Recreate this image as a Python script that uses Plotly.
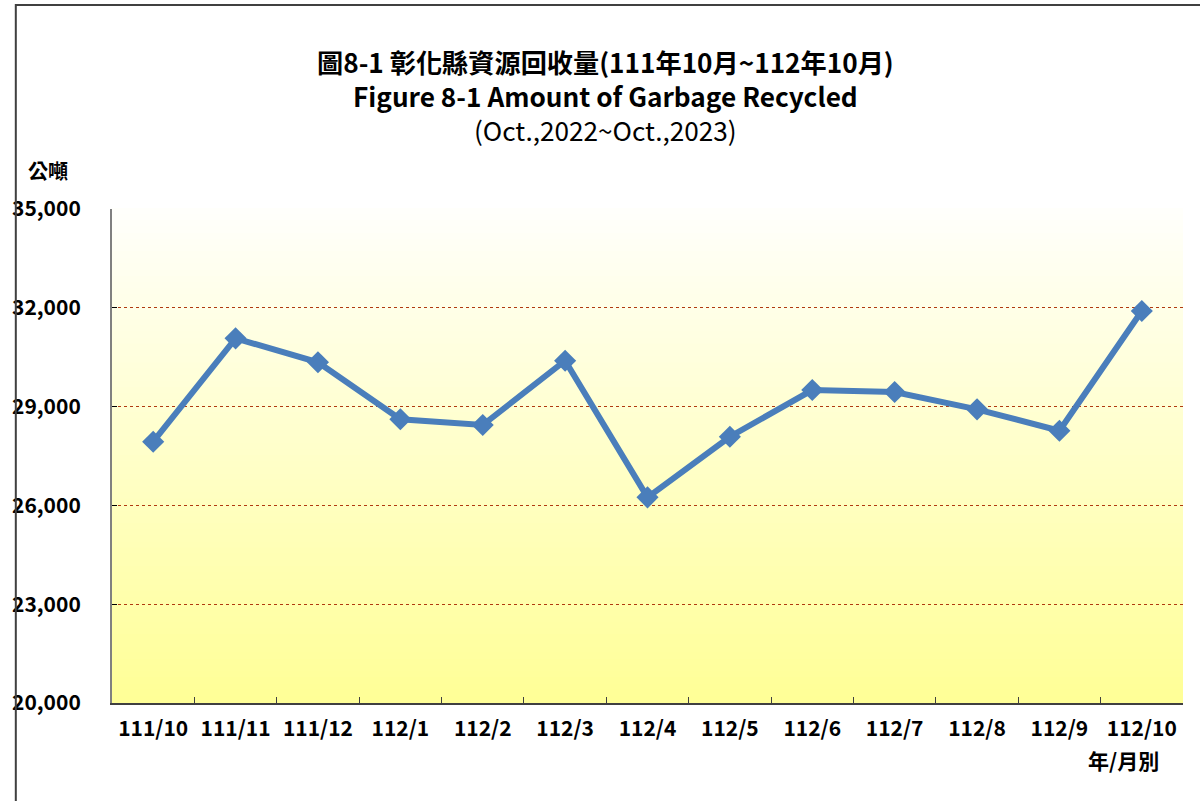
import plotly.graph_objects as go

months = ["111/10", "111/11", "111/12", "112/1", "112/2", "112/3", "112/4",
          "112/5", "112/6", "112/7", "112/8", "112/9", "112/10"]
recycled = [27934, 31073, 30345, 28614, 28440, 30393, 26245,
            28085, 29503, 29443, 28917, 28268, 31903]
y_ticks = [20000, 23000, 26000, 29000, 32000, 35000]
y_tick_text = ["20,000", "23,000", "26,000", "29,000", "32,000", "35,000"]

FONT = "Noto Sans CJK TC"
W, H = 1200, 801
L, R, T, B = 103, 17, 209, 98

fig = go.Figure()
fig.add_trace(go.Scatter(
    x=months, y=recycled, mode="lines+markers",
    line=dict(color="#4A7EBB", width=6),
    marker=dict(symbol="diamond", size=17, color="#4A7EBB"),
    showlegend=False, hoverinfo="x+y",
))

shapes = []
# vertical gradient background of plot area
n = 80
top = (255, 255, 252)
bot = (255, 255, 150)
for i in range(n):
    f = (i + 0.5) / n
    c = tuple(round(top[k] + (bot[k] - top[k]) * f) for k in range(3))
    shapes.append(dict(type="rect", xref="paper", yref="paper",
                       x0=0, x1=1, y0=1 - (i + 1) / n, y1=1 - i / n + 0.002,
                       fillcolor="rgb(%d,%d,%d)" % c, line=dict(width=0), layer="below"))
pw, ph = W - L - R, H - T - B
def px(x): return (x - L) / pw
def py(y): return (H - B - y) / ph
# outer frame (extends beyond right/bottom edges)
shapes.append(dict(type="rect", xref="paper", yref="paper",
                   x0=px(6), x1=px(1215), y0=py(820), y1=py(5),
                   line=dict(color="#404040", width=2), fillcolor="rgba(0,0,0,0)", layer="above"))

def note(text, x, y, size):
    return dict(text=text, x=px(x), y=py(y), xref="paper", yref="paper",
                xanchor="center", yanchor="middle", showarrow=False, align="center",
                font=dict(family=FONT, size=size, color="#000"))

title_text = ("<b>圖8-1 彰化縣資源回收量(111年10月~112年10月)</b><br>"
              "<b>Figure 8-1 Amount of Garbage Recycled</b><br>"
              "(Oct.,2022~Oct.,2023)")

annotations = [
    note(title_text, 601, 96, 26.2),
    note("<b>公噸</b>", 38, 170, 20),
    note("<b>年/月別</b>", 1123, 760, 21),
]

fig.update_layout(
    width=W, height=H,
    margin=dict(l=L, r=R, t=T, b=B, pad=0),
    paper_bgcolor="white", plot_bgcolor="rgba(0,0,0,0)",
    shapes=shapes, annotations=annotations,
    font=dict(family=FONT, color="#000"),
)
fig.update_xaxes(
    type="category", categoryorder="array", categoryarray=months,
    showgrid=False, showline=True, linecolor="#404040", linewidth=1.5,
    ticks="inside", tickson="boundaries", ticklen=6, tickcolor="#404040",
    tickfont=dict(family=FONT, size=21, color="#000", weight="bold"),
    ticklabelstandoff=6, range=[-0.5, 12.5], mirror=False, zeroline=False,
)
fig.update_yaxes(
    range=[20000, 35000], tickvals=y_ticks, ticktext=y_tick_text,
    showgrid=True, gridcolor="#B03A10", griddash="dot", gridwidth=1,
    showline=True, linecolor="#808080", linewidth=2,
    ticks="inside", ticklen=5, tickcolor="#000",
    tickfont=dict(family=FONT, size=21, color="#000", weight="bold"),
    ticklabelstandoff=25, zeroline=False,
)

fig.write_html("out.html", config={"displayModeBar": False},
               post_script="document.body.style.margin='0';document.body.style.overflow='hidden';")
